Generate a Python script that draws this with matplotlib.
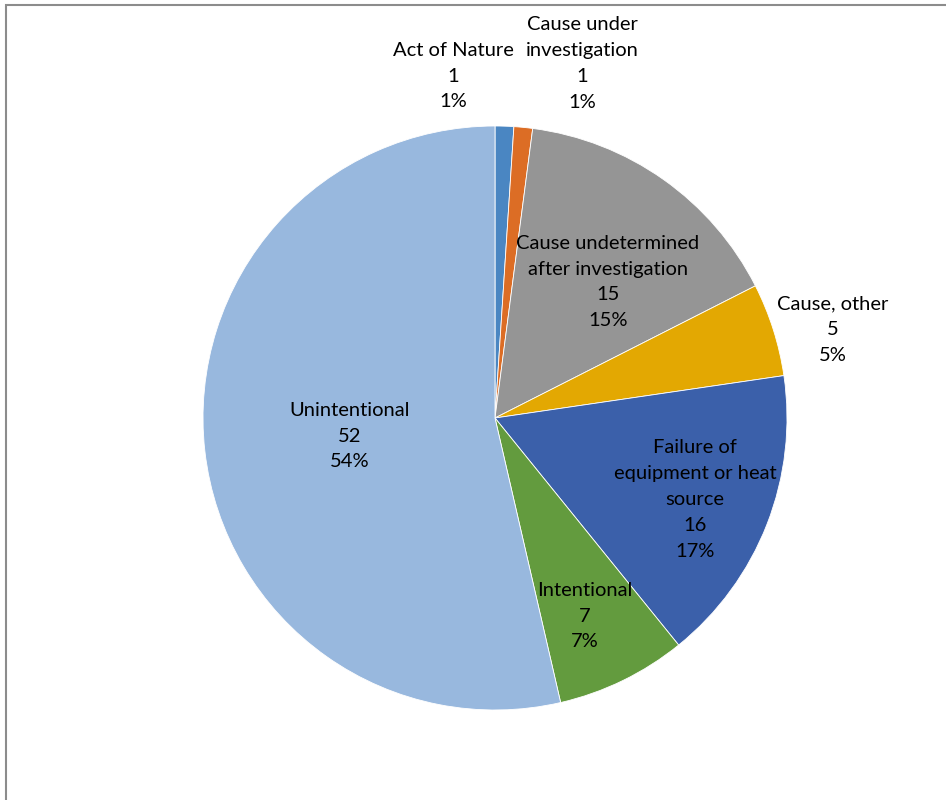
import matplotlib.pyplot as plt
from matplotlib.patches import Rectangle

categories = [
    "Act of Nature",
    "Cause under\ninvestigation",
    "Cause undetermined\nafter investigation",
    "Cause, other",
    "Failure of\nequipment or heat\nsource",
    "Intentional",
    "Unintentional",
]
counts = [1, 1, 15, 5, 16, 7, 52]
percents = ["1%", "1%", "15%", "5%", "17%", "7%", "54%"]

colors = ["#4a86c2", "#dc6d25", "#959595", "#e3a802", "#3b60aa", "#639b3e", "#98b8de"]

# label block centres in pixels from top-left (layout only)
label_pos = [
    (453, 76),
    (582, 63.5),
    (608, 282),
    (833, 329.5),
    (695, 499.5),
    (585, 616),
    (350, 436),
]

W, H = 946, 800
fig = plt.figure(figsize=(W / 100, H / 100), dpi=100)
ax = fig.add_axes([0, 0, 1, 1])

wedges, _ = ax.pie(
    counts,
    colors=colors,
    startangle=90,
    counterclock=False,
    center=(495, H - 418),
    radius=292,
    wedgeprops=dict(linewidth=0.6, edgecolor="white"),
    frame=True,
)
ax.set_xlim(0, W)
ax.set_ylim(0, H)
ax.set_aspect("equal")
ax.axis("off")

# chart frame, cropped at right and bottom
ax.add_patch(Rectangle((5.5, -20), W + 20, H - 4.5 + 20, fill=False,
                       edgecolor="#8c8c8c", linewidth=1.5))

for name, n, pct, (x, y) in zip(categories, counts, percents, label_pos):
    ax.text(x, H - y, f"{name}\n{n}\n{pct}", ha="center", va="center",
            multialignment="center", fontsize=14.5,
            family=["Lato", "DejaVu Sans"], linespacing=1.64, color="#000000")

fig.savefig("out.png", dpi=100)
